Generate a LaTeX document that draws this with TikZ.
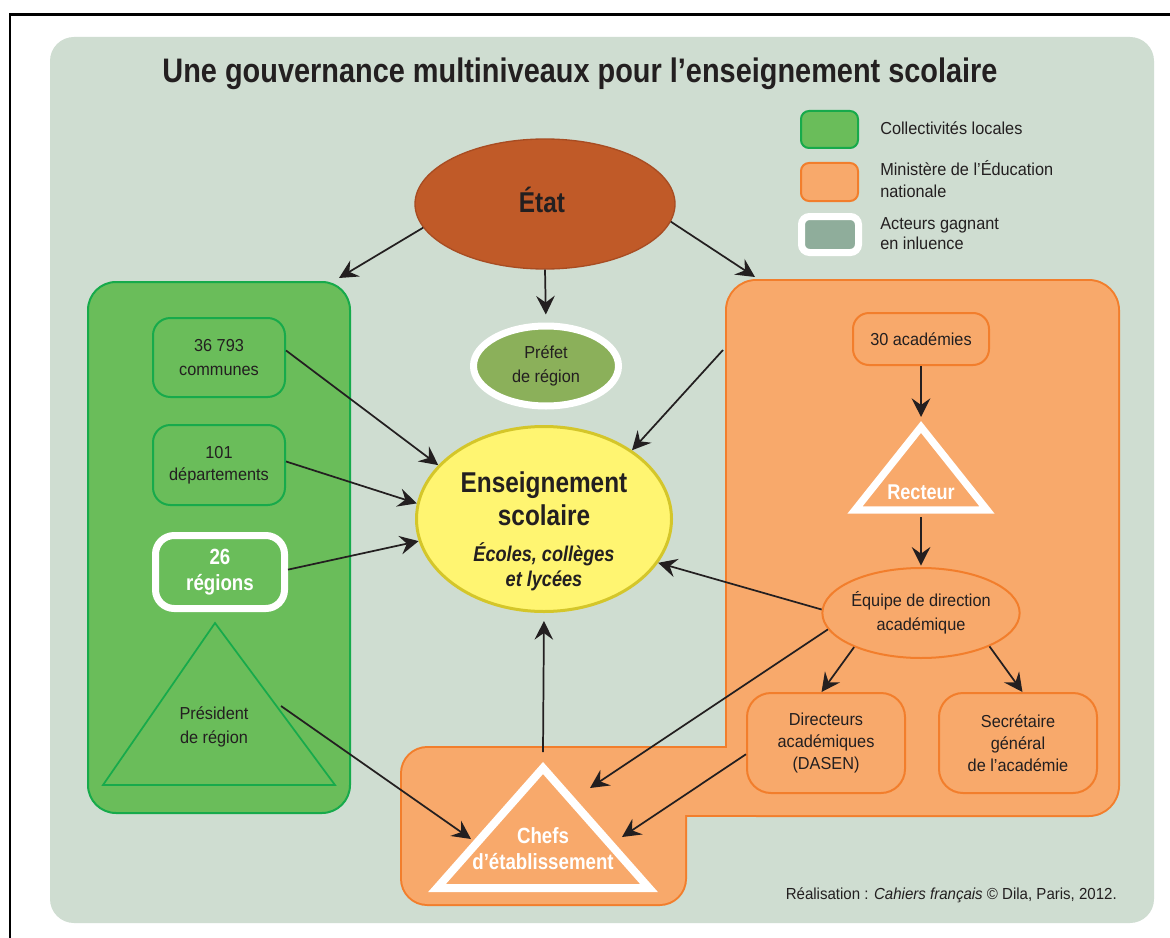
\documentclass[tikz,border=0pt]{standalone}
\usepackage{fontspec}
\setmainfont{Liberation Sans}[FakeStretch=0.94]
\newfontfamily\cbold{Liberation Sans}[FakeStretch=0.85]
\usetikzlibrary{arrows.meta,shapes.geometric,calc}
\definecolor{panelgrey}{HTML}{CFDDD1}
\definecolor{gfill}{HTML}{6ABD5A}
\definecolor{gline}{HTML}{17AA4B}
\definecolor{ofill}{HTML}{F8A96B}
\definecolor{oline}{HTML}{F27E2C}
\definecolor{etatfill}{HTML}{C05A28}
\definecolor{etatline}{HTML}{A84C22}
\definecolor{prefill}{HTML}{8BB05A}
\definecolor{ensfill}{HTML}{FFF571}
\definecolor{ensline}{HTML}{D4C62A}
\definecolor{inflgrey}{HTML}{8FAD9B}
\definecolor{txt}{HTML}{231F20}
\newcommand\fs[2]{\fontsize{#1}{#2}\selectfont}
\tikzset{
  gbox/.style={rectangle, draw=gline, fill=gfill, line width=1.5pt, rounded corners=13pt, inner sep=0pt, text=txt, align=center},
  obox/.style={rectangle, draw=oline, fill=ofill, line width=1.5pt, rounded corners=14pt, inner sep=0pt, text=txt, align=center},
  legtext/.style={text=txt, inner sep=0pt, align=left, font={\fs{13}{16.5}}},
  plain/.style={text=txt, inner sep=0pt, align=center},
  whitebold/.style={text=white, inner sep=0pt, align=center},
  arr/.style={draw=txt, line width=1.3pt, -{Stealth[length=14pt,width=14pt,inset=5pt]}},
  wtri/.style={draw=white, line width=5.5pt, line join=miter},
}
\begin{document}
\begin{tikzpicture}[x=0.75pt,y=-0.75pt]
\path[use as bounding box, fill=white] (0,0) rectangle (1170,938);
\draw[line width=2pt, black] (10,938) -- (10,14.5) -- (1170,14.5);
\fill[panelgrey, rounded corners=18pt] (50,37) rectangle (1154,923);

% title
\node[anchor=base, text=txt, inner sep=0pt, font={\cbold\bfseries\fs{25.5}{30}}] (title) at (580,83) {Une gouvernance multiniveaux pour l’enseignement scolaire};

% legend
\node[rectangle, draw=gline, fill=gfill, line width=1.5pt, rounded corners=6pt, minimum width=42.75pt, minimum height=27.75pt, inner sep=0pt] (lg1) at (829.5,129.5) {};
\node[legtext, anchor=west] (lt1) at (880,128) {Collectivités locales};
\node[rectangle, draw=oline, fill=ofill, line width=1.5pt, rounded corners=6pt, minimum width=42.75pt, minimum height=28.5pt, inner sep=0pt] (lg2) at (829.5,182) {};
\node[legtext, anchor=west] (lt2) at (880,179) {Ministère de l’Éducation\\nationale};
\node[rectangle, draw=white, fill=inflgrey, line width=5.25pt, rounded corners=6pt, minimum width=42.75pt, minimum height=27pt, inner sep=0pt] (lg3) at (830,234.5) {};
\node[legtext, anchor=west, font={\fs{13}{15}}] (lt3) at (880,233.5) {Acteurs gagnant\\en inluence};

% green panel
\node[rectangle, draw=gline, fill=gfill, line width=1.5pt, rounded corners=21pt, minimum width=196.5pt, minimum height=398.25pt, inner sep=0pt] (gp) at (219,547.5) {};
\node[gbox, minimum width=99pt, minimum height=59.25pt, font={\fs{13}{18.5}}] (communes) at (219,357.5) {36 793\\communes};
\node[gbox, minimum width=99pt, minimum height=60pt, font={\fs{13}{16.5}}] (depts) at (219,465) {101\\départements};
\node[gbox, draw=white, line width=5.25pt, rounded corners=14pt, minimum width=96.75pt, minimum height=54.75pt, text=white, font={\cbold\bfseries\fs{16.5}{19.5}}] (regions) at (220,572) {26\\régions};
\coordinate (presA) at (215,623);
\coordinate (presL) at (103,785);
\coordinate (presR) at (335,785);
\draw[draw=gline, line width=1.3pt, line join=miter] (presA) -- (presR) -- (presL) -- cycle;
\node[plain, font={\fs{13}{17.5}}] (pres) at (214,727) {Président\\de région};
\coordinate (presout) at (281,706);

% orange panel
\draw[draw=oline, line width=3pt, rounded corners=22pt] (727,281) rectangle (1118,815);
\draw[draw=oline, line width=3pt, rounded corners=19pt] (402,748) rectangle (685,904);
\draw[draw=oline, line width=3pt] (640,748) rectangle (780,815);
\fill[ofill, rounded corners=22pt] (727,281) rectangle (1118,815);
\fill[ofill, rounded corners=19pt] (402,748) rectangle (685,904);
\fill[ofill] (640,748) rectangle (780,815);
\coordinate (opc) at (755,277);
\coordinate (oedge) at (723,350);

\node[obox, rounded corners=12pt, minimum width=102pt, minimum height=39pt, font={\fs{13}{16}}] (acad) at (921,339) {30 académies};
\coordinate (recA) at (921,427);
\coordinate (recL) at (855,510);
\coordinate (recR) at (987,510);
\draw[wtri] (recA) -- (recR) -- (recL) -- cycle;
\node[whitebold, font={\cbold\bfseries\fs{16}{19}}] (recteur) at (921,492) {Recteur};
\coordinate (rectop) at (921,417);
\coordinate (recbot) at (921,517);
\node[ellipse, draw=oline, fill=ofill, line width=1.5pt, minimum width=145.5pt, minimum height=67.5pt, inner sep=0pt, text=txt, align=center, font={\fs{13}{18}}] (equipe) at (921,613) {Équipe de direction\\académique};
\node[obox, rounded corners=18pt, minimum width=118.5pt, minimum height=75pt, font={\fs{13}{16.5}}] (dir) at (826,743) {Directeurs\\académiques\\(DASEN)};
\node[obox, rounded corners=18pt, minimum width=118.5pt, minimum height=75pt, font={\fs{13}{16.5}}] (sec) at (1018,743) {Secrétaire\\général\\de l’académie};

% chefs triangle
\coordinate (chA) at (543,768);
\coordinate (chL) at (437,888);
\coordinate (chR) at (649,888);
\draw[draw=white, line width=6pt, line join=miter] (chA) -- (chR) -- (chL) -- cycle;
\node[whitebold, font={\cbold\bfseries\fs{16.5}{19.5}}] (chefs) at (543,849) {Chefs\\d’établissement};
\coordinate (chout) at (543,752);
\coordinate (chinL) at (471,839);
\coordinate (chinR1) at (590,788);
\coordinate (chinR2) at (622,837);

% centre
\node[ellipse, draw=etatline, fill=etatfill, line width=1pt, minimum width=195pt, minimum height=97.5pt, inner sep=0pt] (etat) at (545,204) {};
\node[plain, font={\cbold\bfseries\fs{21.5}{25}}] (etatt) at (542,200) {État};
\coordinate (gpc) at (339,278);
\node[ellipse, draw=white, fill=prefill, line width=5.25pt, minimum width=108.75pt, minimum height=60pt, inner sep=0pt, text=txt, align=center, font={\fs{13}{18}}] (prefet) at (546,366) {Préfet\\de région};
\node[ellipse, draw=ensline, fill=ensfill, line width=2.25pt, minimum width=191.25pt, minimum height=138.75pt, inner sep=0pt] (ens) at (544,519) {};
\node[plain, font={\cbold\bfseries\fs{21.5}{24.5}}] (enst) at (544,499) {Enseignement\\scolaire};
\node[plain, font={\cbold\bfseries\itshape\fs{16}{18.75}}] (enss) at (544,567) {Écoles, collèges\\et lycées};

% credit
\node[anchor=base east, text=txt, inner sep=0pt, font={\fs{12}{14}}] (credit) at (1117,899) {Réalisation : \textit{Cahiers français} © Dila, Paris, 2012.};

% arrows
\draw[arr] (etat.191) -- (gpc);
\draw[arr, shorten >=6pt] (etat.south) -- (prefet.north);
\draw[arr] (etat.352) -- (opc);
\draw[arr] (communes.6) -- (ens.153);
\draw[arr] (depts.3) -- (ens.173);
\draw[arr] (regions.2) -- (ens.190);
\draw[arr] (oedge) -- (ens.38);
\draw[arr] (equipe.178) -- (ens.339);
\draw[arr, shorten >=6pt] (chout) -- (ens.south);
\draw[arr] (acad.south) -- (rectop);
\draw[arr, shorten >=1pt] (recbot) -- (equipe.north);
\draw[arr] (equipe.207) -- (dir.95);
\draw[arr] (equipe.334) -- (sec.85);
\draw[arr] (equipe.190) -- (chinR1);
\draw[arr] (dir.188) -- (chinR2);
\draw[arr] (presout) -- (chinL);
\end{tikzpicture}
\end{document}
